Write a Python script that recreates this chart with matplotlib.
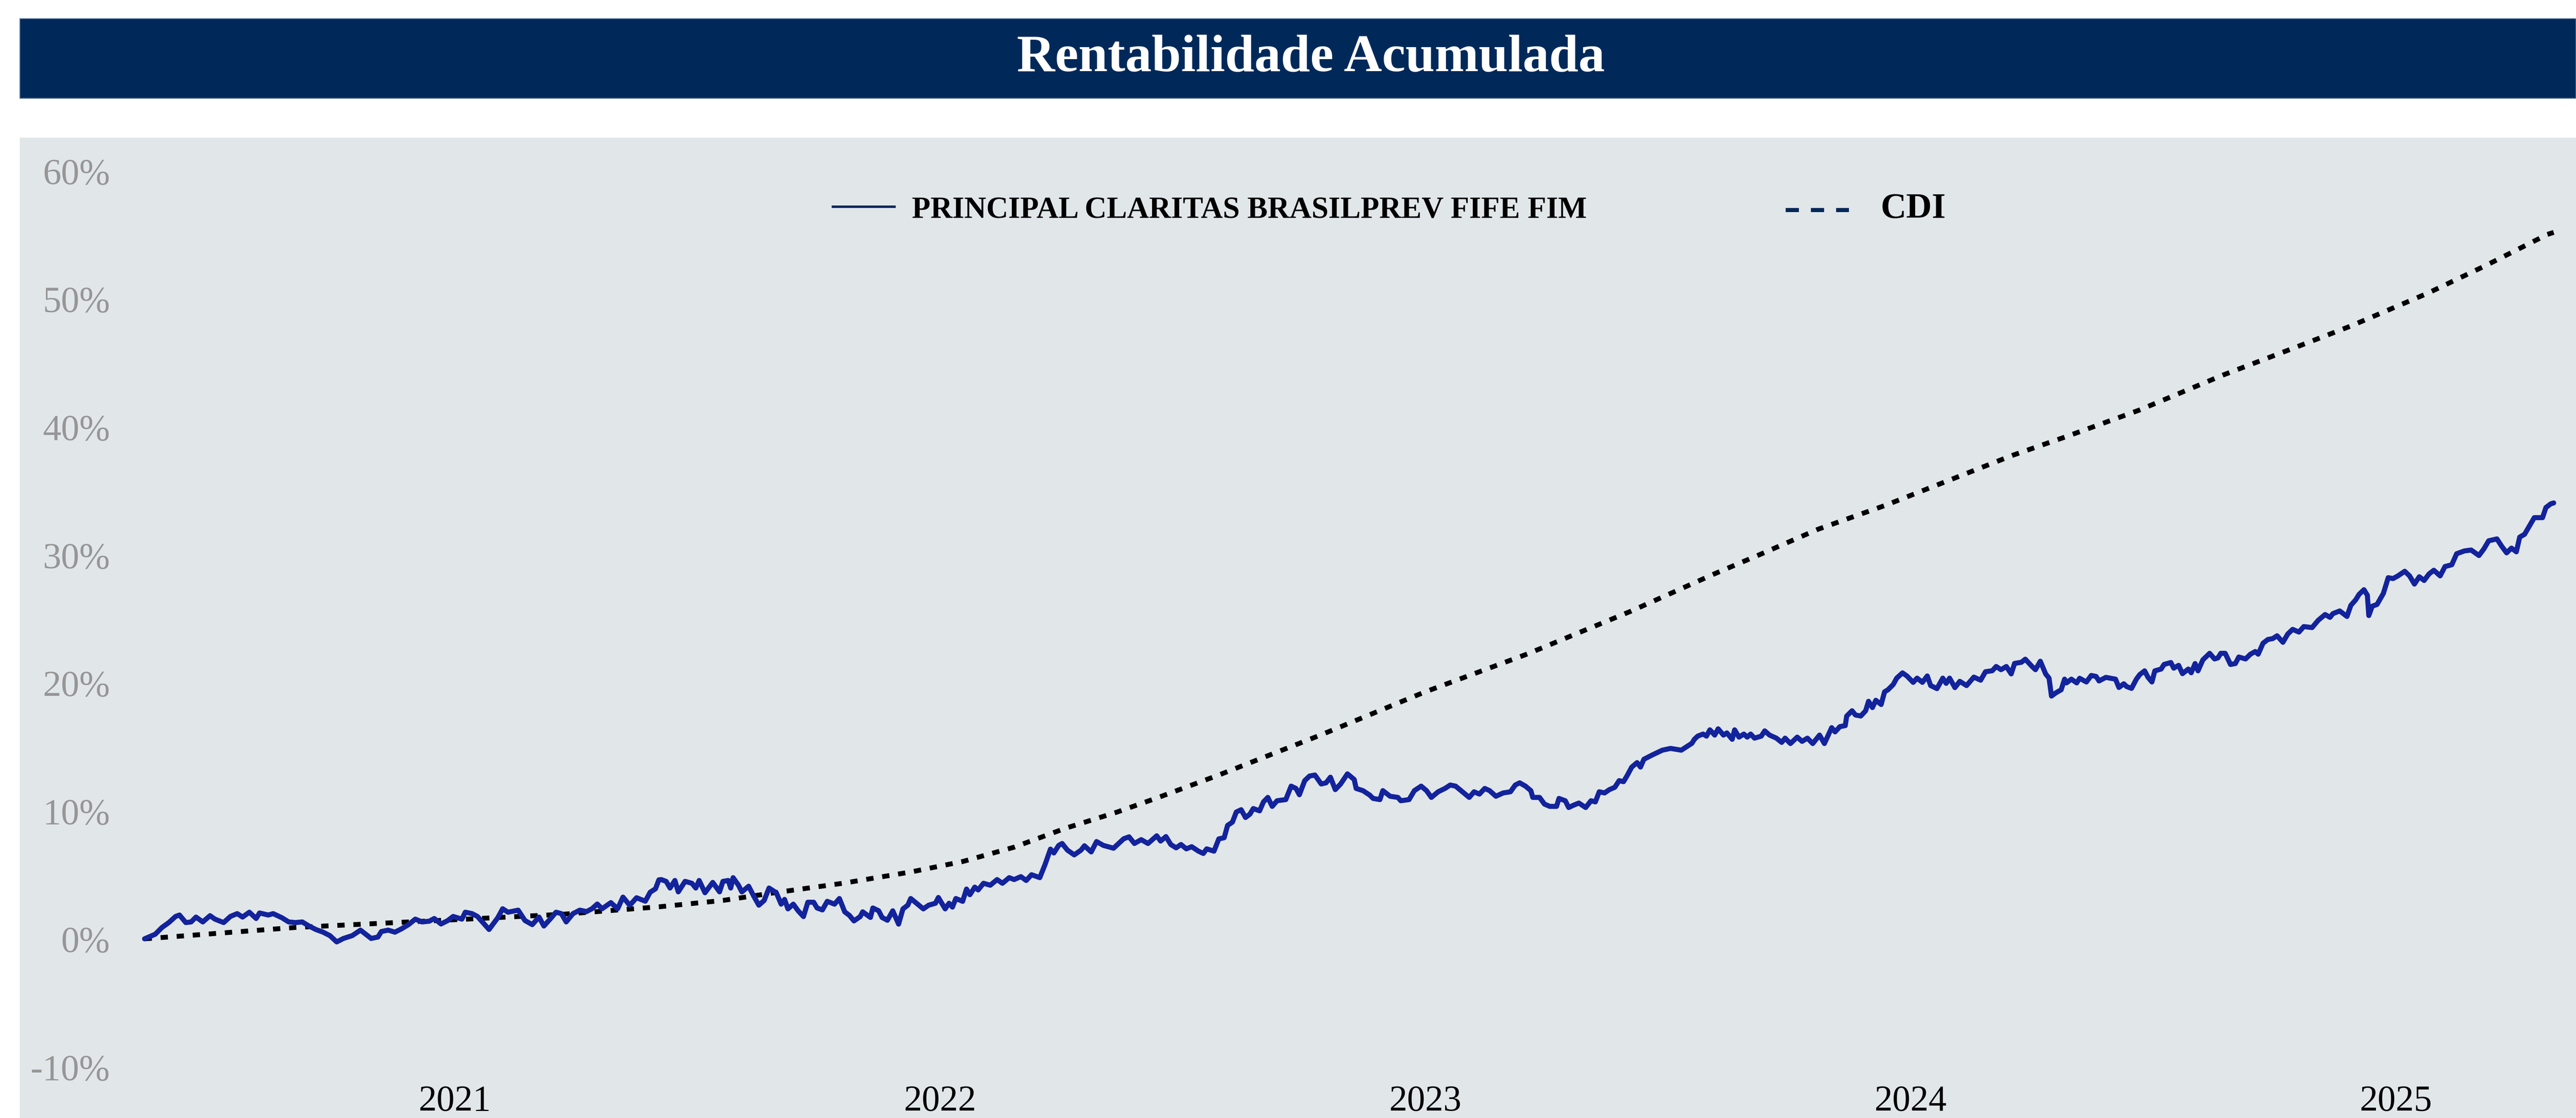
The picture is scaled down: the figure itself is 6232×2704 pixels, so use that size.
import matplotlib
matplotlib.use("Agg")
import matplotlib.pyplot as plt
from matplotlib.patches import Rectangle
from matplotlib.lines import Line2D

plt.rcParams['font.family'] = ['Liberation Serif', 'DejaVu Serif']

# ---------------- data (decimal years, cumulative return in %) ----------------
fund_years = [
    2020.361, 2020.383, 2020.397, 2020.411, 2020.425, 2020.433, 2020.446, 2020.457, 2020.467, 2020.481,
    2020.496, 2020.506, 2020.524, 2020.538, 2020.552, 2020.563, 2020.577, 2020.591, 2020.598, 2020.616,
    2020.626, 2020.644, 2020.658, 2020.672, 2020.686, 2020.700, 2020.714, 2020.729, 2020.743, 2020.757,
    2020.771, 2020.789, 2020.806, 2020.828, 2020.842, 2020.849, 2020.863, 2020.877, 2020.891, 2020.905,
    2020.919, 2020.933, 2020.948, 2020.958, 2020.972, 2020.986, 2020.997, 2021.015, 2021.022, 2021.036,
    2021.047, 2021.061, 2021.071, 2021.089, 2021.099, 2021.110, 2021.131, 2021.145, 2021.160, 2021.174,
    2021.184, 2021.198, 2021.209, 2021.220, 2021.230, 2021.244, 2021.258, 2021.272, 2021.283, 2021.294,
    2021.304, 2021.322, 2021.336, 2021.347, 2021.361, 2021.375, 2021.393, 2021.403, 2021.414, 2021.421,
    2021.426, 2021.436, 2021.444, 2021.454, 2021.461, 2021.475, 2021.489, 2021.497, 2021.504, 2021.516,
    2021.532, 2021.546, 2021.553, 2021.564, 2021.569, 2021.574, 2021.585, 2021.592, 2021.606, 2021.617,
    2021.627, 2021.638, 2021.648, 2021.663, 2021.673, 2021.680, 2021.687, 2021.698, 2021.708, 2021.719,
    2021.728, 2021.740, 2021.747, 2021.758, 2021.768, 2021.783, 2021.793, 2021.804, 2021.814, 2021.823,
    2021.836, 2021.841, 2021.857, 2021.862, 2021.874, 2021.881, 2021.892, 2021.903, 2021.915, 2021.924,
    2021.934, 2021.940, 2021.952, 2021.966, 2021.977, 2021.991, 2021.997, 2022.011, 2022.019, 2022.026,
    2022.033, 2022.047, 2022.055, 2022.062, 2022.072, 2022.079, 2022.090, 2022.104, 2022.118, 2022.129,
    2022.143, 2022.153, 2022.167, 2022.178, 2022.189, 2022.206, 2022.217, 2022.228, 2022.235, 2022.245,
    2022.252, 2022.263, 2022.277, 2022.291, 2022.298, 2022.312, 2022.323, 2022.337, 2022.358, 2022.379,
    2022.390, 2022.401, 2022.415, 2022.429, 2022.447, 2022.455, 2022.466, 2022.476, 2022.487, 2022.497,
    2022.508, 2022.519, 2022.533, 2022.543, 2022.550, 2022.565, 2022.575, 2022.586, 2022.593, 2022.603,
    2022.611, 2022.621, 2022.630, 2022.639, 2022.646, 2022.659, 2022.667, 2022.676, 2022.685, 2022.695,
    2022.713, 2022.724, 2022.734, 2022.741, 2022.752, 2022.762, 2022.773, 2022.786, 2022.796, 2022.805,
    2022.815, 2022.826, 2022.840, 2022.854, 2022.858, 2022.872, 2022.886, 2022.893, 2022.907, 2022.913,
    2022.928, 2022.944, 2022.950, 2022.967, 2022.978, 2022.992, 2023.003, 2023.013, 2023.027, 2023.041,
    2023.052, 2023.063, 2023.077, 2023.091, 2023.101, 2023.112, 2023.123, 2023.133, 2023.146, 2023.161,
    2023.176, 2023.186, 2023.195, 2023.207, 2023.218, 2023.222, 2023.236, 2023.246, 2023.257, 2023.271,
    2023.276, 2023.289, 2023.296, 2023.306, 2023.317, 2023.331, 2023.342, 2023.351, 2023.359, 2023.370,
    2023.380, 2023.391, 2023.400, 2023.409, 2023.416, 2023.426, 2023.437, 2023.444, 2023.451, 2023.469,
    2023.489, 2023.506, 2023.528, 2023.550, 2023.555, 2023.562, 2023.573, 2023.580, 2023.587, 2023.597,
    2023.604, 2023.615, 2023.622, 2023.633, 2023.638, 2023.647, 2023.657, 2023.664, 2023.671, 2023.679,
    2023.693, 2023.700, 2023.710, 2023.724, 2023.735, 2023.742, 2023.753, 2023.767, 2023.777, 2023.788,
    2023.799, 2023.813, 2023.823, 2023.838, 2023.845, 2023.855, 2023.866, 2023.869, 2023.880, 2023.887,
    2023.898, 2023.908, 2023.914, 2023.922, 2023.929, 2023.940, 2023.947, 2023.954, 2023.965, 2023.972,
    2023.984, 2023.993, 2024.006, 2024.014, 2024.025, 2024.035, 2024.042, 2024.055, 2024.067, 2024.074,
    2024.081, 2024.092, 2024.102, 2024.116, 2024.131, 2024.145, 2024.155, 2024.169, 2024.177, 2024.187,
    2024.198, 2024.208, 2024.215, 2024.229, 2024.237, 2024.251, 2024.258, 2024.268, 2024.279, 2024.286,
    2024.291, 2024.300, 2024.311, 2024.318, 2024.322, 2024.332, 2024.343, 2024.349, 2024.363, 2024.373,
    2024.383, 2024.389, 2024.403, 2024.413, 2024.423, 2024.430, 2024.440, 2024.446, 2024.456, 2024.466,
    2024.473, 2024.483, 2024.490, 2024.498, 2024.504, 2024.517, 2024.523, 2024.537, 2024.543, 2024.553,
    2024.561, 2024.573, 2024.579, 2024.587, 2024.593, 2024.603, 2024.617, 2024.627, 2024.634, 2024.640,
    2024.649, 2024.660, 2024.670, 2024.677, 2024.691, 2024.701, 2024.711, 2024.717, 2024.727, 2024.737,
    2024.747, 2024.756, 2024.768, 2024.778, 2024.788, 2024.801, 2024.811, 2024.828, 2024.841, 2024.855,
    2024.865, 2024.871, 2024.885, 2024.900, 2024.908, 2024.918, 2024.925, 2024.935, 2024.942, 2024.945,
    2024.952, 2024.962, 2024.975, 2024.985, 2024.995, 2025.005, 2025.019, 2025.029, 2025.039, 2025.049,
    2025.059, 2025.069, 2025.079, 2025.092, 2025.102, 2025.116, 2025.126, 2025.142, 2025.156, 2025.172,
    2025.182, 2025.192, 2025.209, 2025.219, 2025.229, 2025.239, 2025.249, 2025.256, 2025.266, 2025.276,
    2025.286, 2025.303, 2025.310, 2025.320, 2025.326,
]
fund_values = [
    0.00, 0.36, 0.89, 1.27, 1.75, 1.86, 1.27, 1.32, 1.70, 1.32,
    1.81, 1.54, 1.27, 1.75, 1.97, 1.70, 2.08, 1.59, 2.02, 1.86,
    1.97, 1.65, 1.32, 1.27, 1.32, 1.00, 0.73, 0.52, 0.25, -0.24,
    0.03, 0.25, 0.68, 0.03, 0.14, 0.57, 0.68, 0.52, 0.79, 1.11,
    1.54, 1.32, 1.38, 1.59, 1.16, 1.43, 1.75, 1.54, 2.08, 1.97,
    1.75, 1.16, 0.73, 1.65, 2.35, 2.08, 2.24, 1.43, 1.11, 1.70,
    1.00, 1.59, 2.08, 1.97, 1.32, 1.97, 2.24, 2.13, 2.35, 2.72,
    2.35, 2.83, 2.35, 3.26, 2.62, 3.21, 2.94, 3.64, 3.91, 4.61,
    4.63, 4.49, 3.97, 4.56, 3.67, 4.49, 4.34, 3.97, 4.56, 3.60,
    4.41, 3.67, 4.49, 4.56, 3.97, 4.78, 4.19, 3.67, 4.11, 3.30,
    2.63, 3.00, 3.97, 3.60, 2.71, 3.08, 2.34, 2.71, 2.19, 1.74,
    2.86, 2.86, 2.41, 2.26, 2.93, 2.71, 3.15, 2.11, 1.82, 1.40,
    1.74, 2.11, 1.67, 2.41, 2.19, 1.67, 1.45, 2.19, 1.15, 2.34,
    2.63, 3.15, 2.78, 2.34, 2.63, 2.78, 3.23, 2.34, 2.78, 2.48,
    3.15, 2.93, 3.89, 3.45, 4.04, 3.82, 4.34, 4.19, 4.63, 4.34,
    4.78, 4.63, 4.86, 4.56, 5.01, 4.78, 5.82, 7.01, 6.71, 7.30,
    7.45, 6.93, 6.56, 6.93, 7.27, 6.79, 7.60, 7.30, 7.08, 7.82,
    7.97, 7.45, 7.75, 7.45, 8.05, 7.64, 7.99, 7.37, 7.11, 7.37,
    7.03, 7.20, 6.85, 6.67, 7.03, 6.85, 7.81, 7.90, 8.86, 9.12,
    9.91, 10.09, 9.48, 9.74, 10.18, 10.00, 10.70, 11.05, 10.35, 10.79,
    10.88, 11.93, 11.75, 11.26, 12.36, 12.72, 12.80, 12.10, 12.19, 12.63,
    11.66, 12.10, 12.89, 12.45, 11.75, 11.58, 11.23, 10.97, 10.88, 11.58,
    11.14, 11.05, 10.79, 10.88, 11.58, 11.93, 11.58, 11.05, 11.49, 11.75,
    12.02, 11.93, 11.49, 11.05, 11.49, 11.31, 11.75, 11.58, 11.14, 11.40,
    11.49, 12.02, 12.19, 11.93, 11.58, 11.05, 11.05, 10.53, 10.35, 10.35,
    10.97, 10.79, 10.26, 10.44, 10.61, 10.26, 10.79, 10.70, 11.49, 11.40,
    11.66, 11.84, 12.36, 12.28, 12.72, 13.42, 13.77, 13.42, 14.03, 14.38,
    14.74, 14.88, 14.74, 15.28, 15.59, 15.84, 16.00, 15.84, 16.33, 15.92,
    16.41, 15.92, 16.09, 15.59, 16.33, 15.76, 16.00, 15.76, 16.00, 15.68,
    15.84, 16.25, 15.92, 15.68, 15.35, 15.68, 15.26, 15.76, 15.43, 15.68,
    15.26, 15.92, 15.26, 16.50, 16.17, 16.58, 16.66, 17.41, 17.82, 17.49,
    17.41, 17.82, 18.56, 18.07, 18.64, 18.31, 19.30, 19.46, 19.88, 20.37,
    20.78, 20.54, 20.04, 20.37, 20.04, 20.54, 19.79, 19.55, 20.37, 19.96,
    20.37, 19.63, 20.12, 19.79, 20.45, 20.21, 20.87, 20.95, 21.28, 21.03,
    21.28, 20.70, 21.52, 21.61, 21.85, 21.28, 21.03, 21.69, 20.70, 20.37,
    18.97, 19.22, 19.46, 20.29, 20.00, 20.29, 20.00, 20.36, 20.07, 20.58,
    20.50, 20.15, 20.43, 20.36, 20.29, 19.64, 19.93, 19.71, 19.57, 20.29,
    20.65, 20.94, 20.43, 20.07, 20.94, 21.08, 21.44, 21.59, 21.15, 21.37,
    20.72, 21.08, 20.79, 21.51, 20.94, 21.80, 22.31, 21.87, 21.95, 22.31,
    22.31, 21.44, 21.51, 22.02, 21.87, 22.24, 22.45, 22.24, 23.10, 23.39,
    23.46, 23.68, 23.17, 23.82, 24.18, 23.97, 24.40, 24.32, 24.90, 25.34,
    25.12, 25.41, 25.62, 25.19, 26.06, 26.49, 26.92, 27.28, 26.85, 25.26,
    25.99, 26.13, 26.99, 28.22, 28.15, 28.36, 28.72, 28.36, 27.72, 28.29,
    28.00, 28.51, 28.80, 28.36, 29.09, 29.23, 30.09, 30.31, 30.38, 29.95,
    30.46, 31.10, 31.25, 30.67, 30.16, 30.53, 30.24, 31.39, 31.61, 32.26,
    32.91, 32.91, 33.70, 33.99, 34.06,
]

cdi_years = [
    2020.361, 2020.672, 2021.025, 2021.223, 2021.421, 2021.553, 2021.659, 2021.800,
    2021.941, 2022.047, 2022.153, 2022.259, 2022.365, 2022.447, 2022.575, 2022.787,
    2022.999, 2023.211, 2023.423, 2023.597, 2023.689, 2023.809, 2023.950, 2024.021,
    2024.210, 2024.322, 2024.471, 2024.645, 2024.784, 2024.907, 2025.066, 2025.186,
    2025.313, 2025.326,
]
cdi_values = [
    0.00, 0.89, 1.54, 1.92, 2.50, 3.00, 3.60, 4.34,
    5.23, 6.04, 7.16, 8.64, 9.90, 11.00, 12.80, 15.96,
    19.28, 22.26, 25.58, 28.53, 30.01, 31.99, 33.89, 34.95,
    37.77, 39.25, 41.30, 44.06, 46.07, 47.87, 50.44, 52.61,
    55.04, 55.20,
]

year_ticks = [2021, 2022, 2023, 2024, 2025]
year_labels = ["2021", "2022", "2023", "2024", "2025"]
pct_ticks = [-10, 0, 10, 20, 30, 40, 50, 60]
pct_labels = ["-10%", "0%", "10%", "20%", "30%", "40%", "50%", "60%"]

title_text = "Rentabilidade Acumulada"
fund_name = "PRINCIPAL CLARITAS BRASILPREV FIFE FIM"
bench_name = "CDI"

# ---------------- figure ----------------
W, H = 6232, 2704
fig = plt.figure(figsize=(W / 100, H / 100), dpi=100, facecolor="white")

navy = "#00295A"
fund_color = "#13239C"
bg = "#E1E6E9"

# title banner
fig.patches.append(Rectangle((48 / W, 1 - 238 / H), 1 - 48 / W, 193 / H,
                             transform=fig.transFigure, facecolor=navy,
                             edgecolor="#6F86A6", linewidth=1.5, zorder=0))
fig.text(3171 / W, 1 - 172 / H, title_text, color="white", fontsize=92,
         fontweight="bold", ha="center", va="baseline")

# plot area
ax = fig.add_axes([48 / W, 0, 1 - 48 / W, (H - 333) / H])
ax.set_facecolor(bg)
for s in ax.spines.values():
    s.set_visible(False)

ax.plot(cdi_years, cdi_values, color="black", linewidth=8.5,
        linestyle=(0, (1.5, 1.8)), dash_capstyle="butt", zorder=2)
ax.plot(fund_years, fund_values, color=fund_color, linewidth=8.8,
        solid_joinstyle="round", solid_capstyle="round", zorder=3)

ax.set_xlim(2020.104, 2025.372)
ax.set_ylim(-14.0, 62.6)

ax.set_yticks(pct_ticks)
ax.set_yticklabels(pct_labels)
ax.set_xticks(year_ticks)
ax.set_xticklabels(year_labels)
ax.tick_params(axis="y", length=0, pad=-157, labelsize=64, labelcolor="#969696")
ax.tick_params(axis="x", length=0, pad=-57.6, labelsize=63, labelcolor="black")
ax.grid(False)

# legend (drawn in figure space)
fig.lines.append(Line2D([2015 / W, 2164 / W], [1 - 500 / H, 1 - 500 / H],
                        transform=fig.transFigure, color=navy, linewidth=4.3))
fig.text(2206 / W, 1 - 527 / H, fund_name, fontsize=53, fontweight="bold",
         color="black", ha="left", va="baseline")
fig.lines.append(Line2D([4320 / W, 4473 / W], [1 - 508 / H, 1 - 508 / H],
                        transform=fig.transFigure, color=navy, linewidth=7.2,
                        linestyle=(0, (3.2, 2.9)), dash_capstyle="butt"))
fig.text(4550 / W, 1 - 527 / H, bench_name, fontsize=62, fontweight="bold",
         color="black", ha="left", va="baseline")

fig.savefig("out.png", dpi=100, facecolor="white")
